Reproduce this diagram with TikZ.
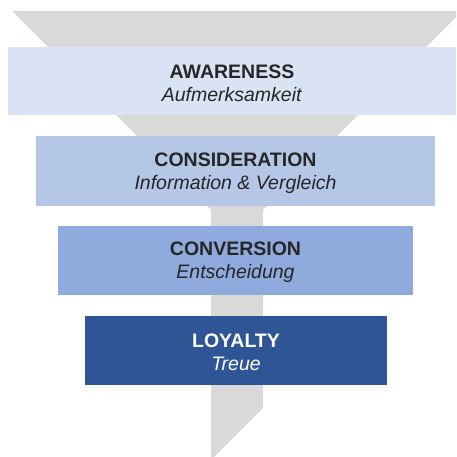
\documentclass[tikz,border=0pt]{standalone}
\usepackage{fontspec}
\setmainfont{Liberation Sans}
\definecolor{funnelgray}{HTML}{D9D9D9}
\definecolor{stageA}{HTML}{DAE3F3}
\definecolor{stageB}{HTML}{B4C7E7}
\definecolor{stageC}{HTML}{8FAADC}
\definecolor{stageD}{HTML}{2F5597}
\definecolor{labeldark}{HTML}{262626}
\begin{document}
\begin{tikzpicture}[x=1pt,y=-1pt,
  stagebox/.style={rectangle, inner sep=0pt},
  stagetext/.style={inner sep=0pt, align=center, yshift=-2pt,
    font=\fontsize{19.5}{23}\selectfont, text=labeldark},
]
\useasboundingbox (0,0) rectangle (456,457);
\clip (0,0) rectangle (456,457);
% funnel body with stem and slanted tip
\fill[funnelgray] (12,11) -- (462,11) -- (263,210) -- (263,408)
  -- (211,460) -- (211,210) -- cycle;
% stage bars
\node[stagebox, fill=stageA, minimum width=448pt, minimum height=68pt]
  (awareness) at (232,81.5) {};
\node[stagebox, fill=stageB, minimum width=399pt, minimum height=70pt]
  (consideration) at (235.5,171) {};
\node[stagebox, fill=stageC, minimum width=355pt, minimum height=69pt]
  (conversion) at (235.5,260.5) {};
\node[stagebox, fill=stageD, minimum width=302pt, minimum height=69pt]
  (loyalty) at (236,350.5) {};
% stage labels
\node[stagetext] (awareness-label) at (awareness.center)
  {\textbf{AWARENESS}\\\textit{Aufmerksamkeit}};
\node[stagetext] (consideration-label) at (consideration.center)
  {\textbf{CONSIDERATION}\\\textit{Information \& Vergleich}};
\node[stagetext] (conversion-label) at (conversion.center)
  {\textbf{CONVERSION}\\\textit{Entscheidung}};
\node[stagetext, text=white] (loyalty-label) at (loyalty.center)
  {\textbf{LOYALTY}\\\textit{Treue}};
\end{tikzpicture}
\end{document}
